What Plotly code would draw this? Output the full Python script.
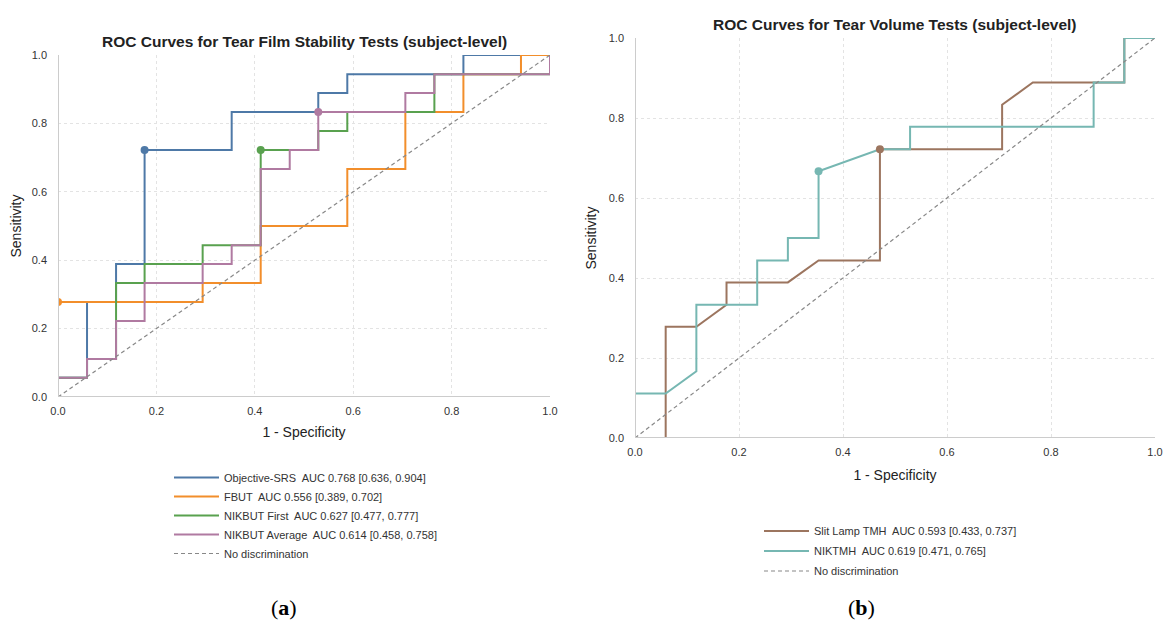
import plotly.graph_objects as go

# ---------------- data ----------------
# Panel (a): Tear film stability tests
srs_fpr = [0, 0, 0.059, 0.059, 0.118, 0.118, 0.176, 0.176, 0.353, 0.353, 0.529, 0.529, 0.588, 0.588, 0.824, 0.824, 1.0]
srs_tpr = [0, 0.056, 0.056, 0.278, 0.278, 0.389, 0.389, 0.722, 0.722, 0.833, 0.833, 0.889, 0.889, 0.944, 0.944, 1.0, 1.0]

fbut_fpr = [0, 0, 0.294, 0.294, 0.412, 0.412, 0.588, 0.588, 0.706, 0.706, 0.824, 0.824, 0.941, 0.941, 1.0]
fbut_tpr = [0, 0.278, 0.278, 0.333, 0.333, 0.5, 0.5, 0.667, 0.667, 0.833, 0.833, 0.944, 0.944, 1.0, 1.0]

first_fpr = [0, 0, 0.059, 0.059, 0.118, 0.118, 0.176, 0.176, 0.294, 0.294, 0.412, 0.412, 0.529, 0.529, 0.588, 0.588, 0.765, 0.765, 1.0, 1.0]
first_tpr = [0, 0.056, 0.056, 0.111, 0.111, 0.333, 0.333, 0.389, 0.389, 0.444, 0.444, 0.722, 0.722, 0.778, 0.778, 0.833, 0.833, 0.944, 0.944, 1.0]

avg_fpr = [0, 0, 0.059, 0.059, 0.118, 0.118, 0.176, 0.176, 0.294, 0.294, 0.353, 0.353, 0.412, 0.412, 0.471, 0.471, 0.529, 0.529, 0.706, 0.706, 0.765, 0.765, 1.0, 1.0]
avg_tpr = [0, 0.056, 0.056, 0.111, 0.111, 0.222, 0.222, 0.333, 0.333, 0.389, 0.389, 0.444, 0.444, 0.667, 0.667, 0.722, 0.722, 0.833, 0.833, 0.889, 0.889, 0.944, 0.944, 1.0]

# operating points for panel (a)
a_names = ["Objective-SRS", "FBUT", "NIKBUT First", "NIKBUT Average"]
a_auc = ["0.768 [0.636, 0.904]", "0.556 [0.389, 0.702]", "0.627 [0.477, 0.777]", "0.614 [0.458, 0.758]"]
a_pt_fpr = [0.176, 0.0, 0.412, 0.529]
a_pt_tpr = [0.722, 0.278, 0.722, 0.833]

# Panel (b): Tear volume tests
slit_fpr = [0, 0.059, 0.059, 0.118, 0.176, 0.176, 0.294, 0.353, 0.471, 0.471, 0.706, 0.706, 0.765, 0.941, 0.941, 1.0]
slit_tpr = [0, 0, 0.278, 0.278, 0.333, 0.389, 0.389, 0.444, 0.444, 0.722, 0.722, 0.833, 0.889, 0.889, 1.0, 1.0]

nik_fpr = [0, 0, 0.059, 0.118, 0.118, 0.235, 0.235, 0.294, 0.294, 0.353, 0.353, 0.471, 0.529, 0.529, 0.882, 0.882, 0.941, 0.941, 1.0]
nik_tpr = [0, 0.111, 0.111, 0.167, 0.333, 0.333, 0.444, 0.444, 0.5, 0.5, 0.667, 0.722, 0.722, 0.778, 0.778, 0.889, 0.889, 1.0, 1.0]

b_names = ["Slit Lamp TMH", "NIKTMH"]
b_auc = ["0.593 [0.433, 0.737]", "0.619 [0.471, 0.765]"]
b_pt_fpr = [0.471, 0.353]
b_pt_tpr = [0.722, 0.667]

diag = [0, 1]
ticks = [0, 0.2, 0.4, 0.6, 0.8, 1.0]
tick_text = ["0.0", "0.2", "0.4", "0.6", "0.8", "1.0"]

# ---------------- styling ----------------
a_colors = ["#4e79a7", "#f28e2b", "#59a14f", "#b07aa1"]
b_colors = ["#9c755f", "#76b7b2"]
FONT = "Liberation Sans, Arial, sans-serif"
W, H = 1165, 626
DASH = "4px,3px"

fig = go.Figure()

a_curves = [(srs_fpr, srs_tpr), (fbut_fpr, fbut_tpr), (first_fpr, first_tpr), (avg_fpr, avg_tpr)]
for i, (fx, fy) in enumerate(a_curves):
    fig.add_trace(go.Scatter(x=fx, y=fy, mode="lines", xaxis="x", yaxis="y",
                             line=dict(color=a_colors[i], width=2),
                             name=f"{a_names[i]}  AUC {a_auc[i]}", legend="legend"))
fig.add_trace(go.Scatter(x=diag, y=diag, mode="lines", xaxis="x", yaxis="y",
                         line=dict(color="#888888", width=1.2, dash=DASH),
                         name="No discrimination", legend="legend"))
for i in range(4):
    fig.add_trace(go.Scatter(x=[a_pt_fpr[i]], y=[a_pt_tpr[i]], mode="markers", xaxis="x", yaxis="y",
                             marker=dict(color=a_colors[i], size=8), showlegend=False))

b_curves = [(slit_fpr, slit_tpr), (nik_fpr, nik_tpr)]
for i, (fx, fy) in enumerate(b_curves):
    fig.add_trace(go.Scatter(x=fx, y=fy, mode="lines", xaxis="x2", yaxis="y2",
                             line=dict(color=b_colors[i], width=2),
                             name=f"{b_names[i]}  AUC {b_auc[i]}", legend="legend2",
                             legendgroup=f"b{i}"))
fig.add_trace(go.Scatter(x=diag, y=diag, mode="lines", xaxis="x2", yaxis="y2",
                         line=dict(color="#888888", width=1.2, dash=DASH),
                         name="No discrimination", legend="legend2", legendgroup="bd"))
for i in range(2):
    fig.add_trace(go.Scatter(x=[b_pt_fpr[i]], y=[b_pt_tpr[i]], mode="markers", xaxis="x2", yaxis="y2",
                             marker=dict(color=b_colors[i], size=8), showlegend=False))


def px_x(p):
    return p / W


def px_y(p):
    return 1 - p / H


axis_common = dict(range=[0, 1], tickvals=ticks, ticktext=tick_text, showgrid=True,
                   gridcolor="#e3e3e3", griddash="dot", gridwidth=1, zeroline=False,
                   showline=False, ticks="", automargin=False,
                   tickfont=dict(size=11, color="#333333", family=FONT), fixedrange=True)

title_font = dict(size=14, color="#222222", family=FONT)

# spines drawn above traces (like the original)
shapes = []
for xr, yr in [("x", "y"), ("x2", "y2")]:
    shapes.append(dict(type="line", xref=xr, yref=yr, x0=0, x1=0, y0=0, y1=1,
                       line=dict(color="#cccccc", width=2), layer="above"))
    shapes.append(dict(type="line", xref=xr, yref=yr, x0=0, x1=1, y0=0, y1=0,
                       line=dict(color="#cccccc", width=2), layer="above"))

fig.update_layout(
    width=W, height=H, margin=dict(l=0, r=0, t=0, b=0, autoexpand=False),
    paper_bgcolor="white", plot_bgcolor="white",
    font=dict(family=FONT, color="#333333"),
    xaxis=dict(domain=[px_x(58), px_x(550)], anchor="y", ticklabelstandoff=6,
               title=dict(text="1 - Specificity", font=title_font, standoff=11),
               **axis_common),
    yaxis=dict(domain=[px_y(397), px_y(55)], anchor="x", ticklabelstandoff=10,
               title=dict(text="Sensitivity", font=title_font, standoff=6),
               **axis_common),
    xaxis2=dict(domain=[px_x(635), px_x(1155)], anchor="y2", ticklabelstandoff=6,
                title=dict(text="1 - Specificity", font=title_font, standoff=13),
                **axis_common),
    yaxis2=dict(domain=[px_y(438), px_y(38)], anchor="x2", ticklabelstandoff=10,
                title=dict(text="Sensitivity", font=title_font, standoff=8),
                **axis_common),
    legend=dict(x=px_x(169), y=px_y(463), xanchor="left", yanchor="top", itemwidth=45,
                font=dict(size=11, color="#333333", family=FONT), tracegroupgap=0,
                bgcolor="rgba(0,0,0,0)"),
    legend2=dict(x=px_x(759), y=px_y(516.5), xanchor="left", yanchor="top", itemwidth=45,
                 font=dict(size=11, color="#333333", family=FONT), tracegroupgap=1,
                 bgcolor="rgba(0,0,0,0)"),
    showlegend=True,
    shapes=shapes,
    annotations=[
        dict(text="<b>ROC Curves for Tear Film Stability Tests (subject-level)</b>",
             x=px_x(304), y=px_y(42), xref="paper", yref="paper", showarrow=False,
             font=dict(size=15.5, color="#222222", family=FONT), xanchor="center", yanchor="middle"),
        dict(text="<b>ROC Curves for Tear Volume Tests (subject-level)</b>",
             x=px_x(895), y=px_y(24), xref="paper", yref="paper", showarrow=False,
             font=dict(size=15.5, color="#222222", family=FONT), xanchor="center", yanchor="middle"),
        dict(text="(<b>a</b>)", x=px_x(284), y=px_y(607), xref="paper", yref="paper",
             showarrow=False, font=dict(size=22, color="#000000", family="Liberation Serif, serif"),
             xanchor="center", yanchor="middle"),
        dict(text="(<b>b</b>)", x=px_x(861), y=px_y(607), xref="paper", yref="paper",
             showarrow=False, font=dict(size=22, color="#000000", family="Liberation Serif, serif"),
             xanchor="center", yanchor="middle"),
    ],
)

fig.write_html("out.html")
